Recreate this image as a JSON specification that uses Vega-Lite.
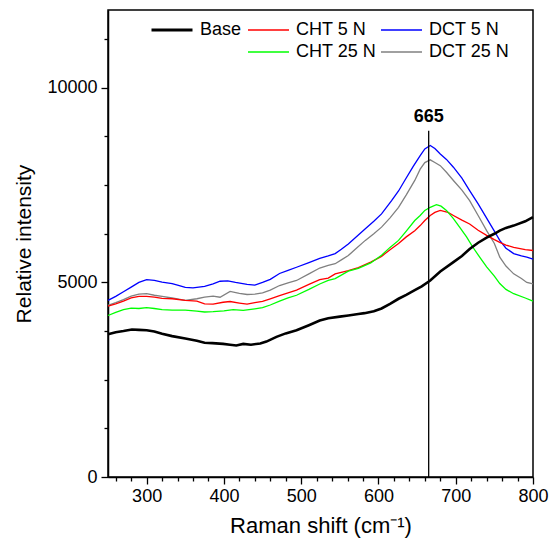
{
  "$schema": "https://vega.github.io/schema/vega-lite/v6.json",
  "width": 425,
  "height": 467,
  "autosize": {"type": "none"},
  "padding": {"left": 108, "top": 10, "right": 26, "bottom": 61},
  "config": {
    "font": "Liberation Sans",
    "view": {"stroke": "black", "strokeWidth": 1.5},
    "axis": {"domainColor": "black", "domainWidth": 1.5, "tickColor": "black", "tickWidth": 1.3, "labelColor": "black", "titleColor": "black", "labelFontSize": 18, "titleFontSize": 22, "titleFontWeight": "normal", "grid": false, "labelFont": "Liberation Sans", "titleFont": "Liberation Sans", "labelFlush": false, "labelOverlap": false}
  },
  "datasets": {
    "lines": [
      {"s":"DCT 5 N","x":250,"y":4540},{"s":"DCT 5 N","x":260,"y":4640},{"s":"DCT 5 N","x":270,"y":4760},{"s":"DCT 5 N","x":280,"y":4880},{"s":"DCT 5 N","x":290,"y":5000},{"s":"DCT 5 N","x":300,"y":5070},{"s":"DCT 5 N","x":310,"y":5050},{"s":"DCT 5 N","x":320,"y":5010},{"s":"DCT 5 N","x":333,"y":4970},{"s":"DCT 5 N","x":340,"y":4930},{"s":"DCT 5 N","x":350,"y":4870},{"s":"DCT 5 N","x":360,"y":4860},{"s":"DCT 5 N","x":375,"y":4900},{"s":"DCT 5 N","x":386,"y":4960},{"s":"DCT 5 N","x":395,"y":5030},{"s":"DCT 5 N","x":405,"y":5040},{"s":"DCT 5 N","x":415,"y":5000},{"s":"DCT 5 N","x":430,"y":4950},{"s":"DCT 5 N","x":440,"y":4930},{"s":"DCT 5 N","x":450,"y":5000},{"s":"DCT 5 N","x":460,"y":5080},{"s":"DCT 5 N","x":472,"y":5230},{"s":"DCT 5 N","x":483,"y":5310},{"s":"DCT 5 N","x":494,"y":5390},{"s":"DCT 5 N","x":510,"y":5510},{"s":"DCT 5 N","x":524,"y":5620},{"s":"DCT 5 N","x":535,"y":5680},{"s":"DCT 5 N","x":544,"y":5740},{"s":"DCT 5 N","x":552,"y":5850},{"s":"DCT 5 N","x":561,"y":5990},{"s":"DCT 5 N","x":570,"y":6150},{"s":"DCT 5 N","x":583,"y":6380},{"s":"DCT 5 N","x":594,"y":6570},{"s":"DCT 5 N","x":604,"y":6760},{"s":"DCT 5 N","x":617,"y":7100},{"s":"DCT 5 N","x":626,"y":7350},{"s":"DCT 5 N","x":634,"y":7620},{"s":"DCT 5 N","x":645,"y":7980},{"s":"DCT 5 N","x":654,"y":8260},{"s":"DCT 5 N","x":660,"y":8430},{"s":"DCT 5 N","x":667,"y":8520},{"s":"DCT 5 N","x":673,"y":8440},{"s":"DCT 5 N","x":680,"y":8300},{"s":"DCT 5 N","x":688,"y":8160},{"s":"DCT 5 N","x":697,"y":7960},{"s":"DCT 5 N","x":708,"y":7680},{"s":"DCT 5 N","x":718,"y":7360},{"s":"DCT 5 N","x":729,"y":7020},{"s":"DCT 5 N","x":740,"y":6650},{"s":"DCT 5 N","x":750,"y":6320},{"s":"DCT 5 N","x":757,"y":6080},{"s":"DCT 5 N","x":765,"y":5880},{"s":"DCT 5 N","x":775,"y":5740},{"s":"DCT 5 N","x":785,"y":5680},{"s":"DCT 5 N","x":792,"y":5650},{"s":"DCT 5 N","x":800,"y":5600},
      {"s":"DCT 25 N","x":250,"y":4410},{"s":"DCT 25 N","x":260,"y":4480},{"s":"DCT 25 N","x":270,"y":4560},{"s":"DCT 25 N","x":280,"y":4650},{"s":"DCT 25 N","x":290,"y":4700},{"s":"DCT 25 N","x":300,"y":4710},{"s":"DCT 25 N","x":310,"y":4670},{"s":"DCT 25 N","x":320,"y":4640},{"s":"DCT 25 N","x":333,"y":4600},{"s":"DCT 25 N","x":350,"y":4540},{"s":"DCT 25 N","x":365,"y":4580},{"s":"DCT 25 N","x":375,"y":4620},{"s":"DCT 25 N","x":386,"y":4650},{"s":"DCT 25 N","x":395,"y":4620},{"s":"DCT 25 N","x":408,"y":4770},{"s":"DCT 25 N","x":420,"y":4720},{"s":"DCT 25 N","x":430,"y":4690},{"s":"DCT 25 N","x":440,"y":4700},{"s":"DCT 25 N","x":450,"y":4730},{"s":"DCT 25 N","x":460,"y":4800},{"s":"DCT 25 N","x":472,"y":4920},{"s":"DCT 25 N","x":483,"y":4990},{"s":"DCT 25 N","x":494,"y":5050},{"s":"DCT 25 N","x":510,"y":5220},{"s":"DCT 25 N","x":524,"y":5370},{"s":"DCT 25 N","x":535,"y":5440},{"s":"DCT 25 N","x":544,"y":5480},{"s":"DCT 25 N","x":552,"y":5580},{"s":"DCT 25 N","x":561,"y":5690},{"s":"DCT 25 N","x":570,"y":5850},{"s":"DCT 25 N","x":583,"y":6080},{"s":"DCT 25 N","x":594,"y":6250},{"s":"DCT 25 N","x":604,"y":6420},{"s":"DCT 25 N","x":615,"y":6660},{"s":"DCT 25 N","x":626,"y":6930},{"s":"DCT 25 N","x":636,"y":7250},{"s":"DCT 25 N","x":647,"y":7620},{"s":"DCT 25 N","x":654,"y":7910},{"s":"DCT 25 N","x":660,"y":8080},{"s":"DCT 25 N","x":667,"y":8150},{"s":"DCT 25 N","x":673,"y":8080},{"s":"DCT 25 N","x":680,"y":8000},{"s":"DCT 25 N","x":688,"y":7830},{"s":"DCT 25 N","x":697,"y":7620},{"s":"DCT 25 N","x":708,"y":7370},{"s":"DCT 25 N","x":718,"y":7100},{"s":"DCT 25 N","x":729,"y":6720},{"s":"DCT 25 N","x":740,"y":6330},{"s":"DCT 25 N","x":750,"y":6000},{"s":"DCT 25 N","x":757,"y":5650},{"s":"DCT 25 N","x":765,"y":5420},{"s":"DCT 25 N","x":775,"y":5220},{"s":"DCT 25 N","x":785,"y":5100},{"s":"DCT 25 N","x":792,"y":5000},{"s":"DCT 25 N","x":800,"y":4960},
      {"s":"CHT 5 N","x":250,"y":4390},{"s":"CHT 5 N","x":260,"y":4450},{"s":"CHT 5 N","x":270,"y":4520},{"s":"CHT 5 N","x":280,"y":4600},{"s":"CHT 5 N","x":290,"y":4640},{"s":"CHT 5 N","x":300,"y":4640},{"s":"CHT 5 N","x":310,"y":4620},{"s":"CHT 5 N","x":320,"y":4590},{"s":"CHT 5 N","x":333,"y":4580},{"s":"CHT 5 N","x":350,"y":4540},{"s":"CHT 5 N","x":365,"y":4520},{"s":"CHT 5 N","x":375,"y":4450},{"s":"CHT 5 N","x":386,"y":4440},{"s":"CHT 5 N","x":399,"y":4490},{"s":"CHT 5 N","x":408,"y":4510},{"s":"CHT 5 N","x":420,"y":4470},{"s":"CHT 5 N","x":430,"y":4440},{"s":"CHT 5 N","x":440,"y":4480},{"s":"CHT 5 N","x":450,"y":4510},{"s":"CHT 5 N","x":460,"y":4580},{"s":"CHT 5 N","x":472,"y":4660},{"s":"CHT 5 N","x":483,"y":4730},{"s":"CHT 5 N","x":494,"y":4800},{"s":"CHT 5 N","x":510,"y":4950},{"s":"CHT 5 N","x":524,"y":5070},{"s":"CHT 5 N","x":535,"y":5110},{"s":"CHT 5 N","x":544,"y":5220},{"s":"CHT 5 N","x":561,"y":5300},{"s":"CHT 5 N","x":574,"y":5380},{"s":"CHT 5 N","x":590,"y":5520},{"s":"CHT 5 N","x":604,"y":5670},{"s":"CHT 5 N","x":615,"y":5840},{"s":"CHT 5 N","x":626,"y":6000},{"s":"CHT 5 N","x":636,"y":6170},{"s":"CHT 5 N","x":647,"y":6330},{"s":"CHT 5 N","x":654,"y":6460},{"s":"CHT 5 N","x":660,"y":6590},{"s":"CHT 5 N","x":667,"y":6720},{"s":"CHT 5 N","x":673,"y":6800},{"s":"CHT 5 N","x":680,"y":6850},{"s":"CHT 5 N","x":690,"y":6800},{"s":"CHT 5 N","x":697,"y":6720},{"s":"CHT 5 N","x":708,"y":6600},{"s":"CHT 5 N","x":718,"y":6500},{"s":"CHT 5 N","x":729,"y":6340},{"s":"CHT 5 N","x":740,"y":6210},{"s":"CHT 5 N","x":750,"y":6100},{"s":"CHT 5 N","x":757,"y":6030},{"s":"CHT 5 N","x":765,"y":5960},{"s":"CHT 5 N","x":775,"y":5900},{"s":"CHT 5 N","x":790,"y":5840},{"s":"CHT 5 N","x":800,"y":5820},
      {"s":"CHT 25 N","x":250,"y":4150},{"s":"CHT 25 N","x":260,"y":4230},{"s":"CHT 25 N","x":270,"y":4300},{"s":"CHT 25 N","x":280,"y":4340},{"s":"CHT 25 N","x":290,"y":4330},{"s":"CHT 25 N","x":300,"y":4350},{"s":"CHT 25 N","x":310,"y":4330},{"s":"CHT 25 N","x":320,"y":4300},{"s":"CHT 25 N","x":333,"y":4290},{"s":"CHT 25 N","x":350,"y":4290},{"s":"CHT 25 N","x":365,"y":4260},{"s":"CHT 25 N","x":375,"y":4240},{"s":"CHT 25 N","x":386,"y":4250},{"s":"CHT 25 N","x":400,"y":4270},{"s":"CHT 25 N","x":412,"y":4300},{"s":"CHT 25 N","x":425,"y":4280},{"s":"CHT 25 N","x":440,"y":4320},{"s":"CHT 25 N","x":450,"y":4350},{"s":"CHT 25 N","x":460,"y":4420},{"s":"CHT 25 N","x":472,"y":4520},{"s":"CHT 25 N","x":483,"y":4600},{"s":"CHT 25 N","x":494,"y":4670},{"s":"CHT 25 N","x":510,"y":4820},{"s":"CHT 25 N","x":524,"y":4960},{"s":"CHT 25 N","x":535,"y":5050},{"s":"CHT 25 N","x":544,"y":5100},{"s":"CHT 25 N","x":561,"y":5290},{"s":"CHT 25 N","x":574,"y":5360},{"s":"CHT 25 N","x":590,"y":5500},{"s":"CHT 25 N","x":604,"y":5700},{"s":"CHT 25 N","x":615,"y":5900},{"s":"CHT 25 N","x":626,"y":6080},{"s":"CHT 25 N","x":636,"y":6320},{"s":"CHT 25 N","x":647,"y":6590},{"s":"CHT 25 N","x":654,"y":6720},{"s":"CHT 25 N","x":660,"y":6850},{"s":"CHT 25 N","x":667,"y":6930},{"s":"CHT 25 N","x":675,"y":7000},{"s":"CHT 25 N","x":681,"y":6960},{"s":"CHT 25 N","x":688,"y":6850},{"s":"CHT 25 N","x":697,"y":6640},{"s":"CHT 25 N","x":705,"y":6420},{"s":"CHT 25 N","x":714,"y":6170},{"s":"CHT 25 N","x":722,"y":5910},{"s":"CHT 25 N","x":731,"y":5650},{"s":"CHT 25 N","x":740,"y":5400},{"s":"CHT 25 N","x":750,"y":5160},{"s":"CHT 25 N","x":757,"y":4970},{"s":"CHT 25 N","x":765,"y":4820},{"s":"CHT 25 N","x":775,"y":4710},{"s":"CHT 25 N","x":790,"y":4600},{"s":"CHT 25 N","x":800,"y":4520}
    ],
    "base": [
      {"s":"Base","x":250,"y":3670},{"s":"Base","x":260,"y":3720},{"s":"Base","x":270,"y":3750},{"s":"Base","x":281,"y":3790},{"s":"Base","x":290,"y":3780},{"s":"Base","x":300,"y":3770},{"s":"Base","x":310,"y":3740},{"s":"Base","x":320,"y":3680},{"s":"Base","x":333,"y":3620},{"s":"Base","x":350,"y":3560},{"s":"Base","x":365,"y":3500},{"s":"Base","x":375,"y":3450},{"s":"Base","x":385,"y":3440},{"s":"Base","x":399,"y":3420},{"s":"Base","x":408,"y":3400},{"s":"Base","x":416,"y":3380},{"s":"Base","x":425,"y":3420},{"s":"Base","x":435,"y":3400},{"s":"Base","x":447,"y":3430},{"s":"Base","x":455,"y":3480},{"s":"Base","x":468,"y":3600},{"s":"Base","x":480,"y":3690},{"s":"Base","x":494,"y":3770},{"s":"Base","x":510,"y":3900},{"s":"Base","x":524,"y":4020},{"s":"Base","x":535,"y":4080},{"s":"Base","x":550,"y":4120},{"s":"Base","x":561,"y":4150},{"s":"Base","x":574,"y":4190},{"s":"Base","x":582,"y":4210},{"s":"Base","x":594,"y":4260},{"s":"Base","x":604,"y":4330},{"s":"Base","x":615,"y":4450},{"s":"Base","x":626,"y":4580},{"s":"Base","x":636,"y":4680},{"s":"Base","x":647,"y":4800},{"s":"Base","x":656,"y":4900},{"s":"Base","x":667,"y":5050},{"s":"Base","x":680,"y":5280},{"s":"Base","x":697,"y":5520},{"s":"Base","x":708,"y":5680},{"s":"Base","x":718,"y":5860},{"s":"Base","x":729,"y":6020},{"s":"Base","x":740,"y":6150},{"s":"Base","x":750,"y":6250},{"s":"Base","x":757,"y":6330},{"s":"Base","x":765,"y":6400},{"s":"Base","x":775,"y":6460},{"s":"Base","x":790,"y":6570},{"s":"Base","x":800,"y":6680}
    ],
    "peak": [{"x": 665, "top": 8900, "ty": 9250, "t": "665"}]
  },
  "layer": [
    {
      "data": {"name": "lines"},
      "mark": {"type": "line", "strokeWidth": 1.3},
      "encoding": {
        "x": {"field": "x", "type": "quantitative", "title": "Raman shift (cm⁻¹)", "scale": {"domain": [250, 800], "nice": false, "zero": false},
          "axis": {"values": [260,280,300,320,340,360,380,400,420,440,460,480,500,520,540,560,580,600,620,640,660,680,700,720,740,760,780,800],
            "tickCount": 60,
            "labelExpr": "datum.value % 100 === 0 ? datum.label : ''",
            "tickSize": {"condition": {"test": "datum.value % 100 === 0", "value": 7}, "value": 4},
            "labelPadding": 3, "titlePadding": 10}},
        "y": {"field": "y", "type": "quantitative", "title": "Relative intensity", "scale": {"domain": [0, 12000], "nice": false},
          "axis": {"values": [0,1250,2500,3750,5000,6250,7500,8750,10000,11250], "format": "d",
            "tickCount": 40,
            "labelExpr": "datum.value % 5000 === 0 ? datum.label : ''",
            "tickSize": {"condition": {"test": "datum.value % 5000 === 0", "value": 7}, "value": 4},
            "labelPadding": 4, "titlePadding": 12, "titleFontSize": 21}},
        "color": {"field": "s", "type": "nominal",
          "scale": {"domain": ["CHT 5 N", "CHT 25 N", "DCT 5 N", "DCT 25 N"], "range": ["#ff0000", "#00ff00", "#0000ff", "#808080"]},
          "legend": {"orient": "none", "legendX": 139, "legendY": 9, "columns": 2, "title": null, "symbolType": "stroke", "symbolSize": 1681, "symbolStrokeWidth": 1.5, "labelFontSize": 18, "labelFont": "Liberation Sans", "labelColor": "black", "labelOffset": 6, "clipHeight": 22, "rowPadding": 0, "columnPadding": 3, "padding": 0}}
      }
    },
    {
      "data": {"name": "base"},
      "mark": {"type": "line", "strokeWidth": 2.6},
      "encoding": {
        "x": {"field": "x", "type": "quantitative", "title": "Raman shift (cm⁻¹)"},
        "y": {"field": "y", "type": "quantitative", "title": "Relative intensity"},
        "color": {"field": "s", "type": "nominal",
          "scale": {"domain": ["Base"], "range": ["#000000"]},
          "legend": {"orient": "none", "legendX": 42, "legendY": 9, "title": null, "symbolType": "stroke", "symbolSize": 1681, "symbolStrokeWidth": 3, "labelFontSize": 18, "labelFont": "Liberation Sans", "labelColor": "black", "labelOffset": 6, "clipHeight": 22, "padding": 0}}
      }
    },
    {
      "data": {"name": "peak"},
      "mark": {"type": "rule", "color": "black", "strokeWidth": 1.3},
      "encoding": {
        "x": {"field": "x", "type": "quantitative", "title": "Raman shift (cm⁻¹)"},
        "y": {"field": "top", "type": "quantitative", "title": "Relative intensity"},
        "y2": {"datum": 0}
      }
    },
    {
      "data": {"name": "peak"},
      "mark": {"type": "text", "fontWeight": "bold", "fontSize": 18, "font": "Liberation Sans", "color": "black", "baseline": "middle", "align": "center"},
      "encoding": {
        "x": {"field": "x", "type": "quantitative", "title": "Raman shift (cm⁻¹)"},
        "y": {"field": "ty", "type": "quantitative", "title": "Relative intensity"},
        "text": {"field": "t", "type": "nominal"}
      }
    }
  ],
  "resolve": {"scale": {"color": "independent"}}
}
